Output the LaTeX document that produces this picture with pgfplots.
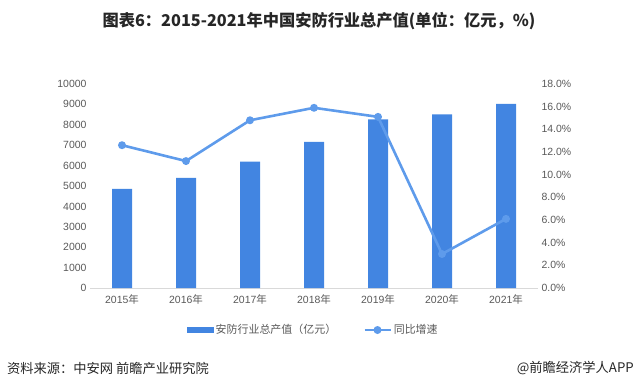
\documentclass[border=0pt]{standalone}
\usepackage{fontspec}
\usepackage{pgfplots}
\pgfplotsset{compat=1.18}
\setmainfont{Liberation Sans}
\newfontfamily\cjk{Noto Sans CJK SC}
\definecolor{barblue}{HTML}{4285E1}
\definecolor{lineblue}{HTML}{5E9BEB}
\definecolor{tickgray}{HTML}{595959}
\definecolor{axgray}{HTML}{D9D9D9}
\begin{document}
\begin{tikzpicture}[x=1bp,y=1bp]
\useasboundingbox (0,0) rectangle (635,388);
\pgfplotsset{
  every axis/.append style={
    font=\fontsize{10.5}{12}\selectfont,
    /pgf/number format/assume math mode=true,
    scale only axis, width=448bp, height=204bp,
    at={(90bp,100bp)}, anchor=south west,
    xmin=-0.5, xmax=6.5,
    major tick length=0pt,
    tick label style={text=tickgray},
  }
}
\begin{axis}[
  ymin=0, ymax=10000, ytick={0,1000,...,10000},
  scaled y ticks=false,
  yticklabel style={/pgf/number format/.cd, fixed, set thousands separator={}},
  xtick={0,...,6},
  xticklabels={2015{\cjk 年},2016{\cjk 年},2017{\cjk 年},2018{\cjk 年},2019{\cjk 年},2020{\cjk 年},2021{\cjk 年}},
  xticklabel style={yshift=-3bp},
  axis x line*=bottom, axis y line*=left,
  x axis line style={draw=axgray, line width=0.75bp, -},
  y axis line style={draw=none},
  ybar, bar width=20bp,
]
\addplot[fill=barblue, draw=none] coordinates {(0,4860) (1,5400) (2,6200) (3,7160) (4,8260) (5,8510) (6,9020)};
\end{axis}
\begin{axis}[
  ymin=0, ymax=18, ytick={0,2,...,18},
  yticklabel={\pgfmathprintnumber[fixed,fixed zerofill,precision=1]{\tick}\%},
  hide x axis,
  axis y line*=right,
  y axis line style={draw=none},
  legend style={at={(0.21,-0.206)}, anchor=west, draw=none, fill=none,
    legend columns=2, font=\cjk\fontsize{11}{13}\selectfont, text=tickgray,
    /tikz/every even column/.append style={column sep=25bp}},
  legend cell align=left,
]
\addlegendimage{legend image code/.code={\fill[barblue] (0bp,-2.5bp) rectangle (26bp,2.5bp);}}
\addlegendentry{安防行业总产值（亿元）}
\addplot[color=lineblue, line width=2.6bp, mark=*, mark size=2.6bp, mark options={fill=lineblue, draw=lineblue},
  legend image code/.code={\draw[lineblue, line width=2.6bp] (0bp,0bp) -- (26bp,0bp); \fill[lineblue] (13bp,0bp) circle (2.6bp);}]
  coordinates {(0,12.6) (1,11.2) (2,14.8) (3,15.9) (4,15.1) (5,3.0) (6,6.1)};
\addlegendentry{同比增速}
\end{axis}
\node[font=\cjk\bfseries\fontsize{16.3}{19}\selectfont, text=black!85] at (319,367) {图表6：2015-2021年中国安防行业总产值(单位：亿元，\%)};
\node[anchor=west, font=\cjk\fontsize{13.3}{16}\selectfont, text=black!85, inner sep=0] at (7,20) {资料来源：中安网 前瞻产业研究院};
\node[anchor=east, font=\cjk\fontsize{13.3}{16}\selectfont, text=black!85, inner sep=0] at (634,20) {@前瞻经济学人APP};
\end{tikzpicture}
\end{document}
